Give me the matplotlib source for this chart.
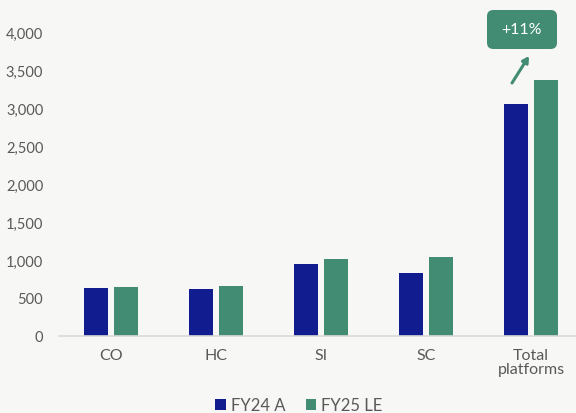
import matplotlib

matplotlib.use("Agg")
import matplotlib.pyplot as plt
from matplotlib.patches import FancyBboxPatch
from matplotlib.ticker import FuncFormatter

categories = ["CO", "HC", "SI", "SC", "Total\nplatforms"]
fy24_a = [635, 620, 950, 830, 3050]
fy25_le = [648, 660, 1015, 1040, 3370]
series_names = ["FY24 A", "FY25 LE"]
growth_label = "+11%"

BLUE = "#111d8e"
GREEN = "#428c73"
BG = "#f7f7f5"
TEXT = "#595959"

plt.rcParams["font.family"] = ["Lato", "DejaVu Sans"]

W, H = 576, 414
fig = plt.figure(figsize=(W / 100, H / 100), dpi=100, facecolor=BG)
# axes placed in pixel terms: x from 58.5 to 576, zero line at y=337, 4000 at y=33
ax = fig.add_axes([58.5 / W, (H - 337) / H, (W - 58.5) / W, 304 / H])
ax.set_facecolor(BG)

x = list(range(len(categories)))
bw = 0.229
off = 0.143
ax.bar([i - off for i in x], fy24_a, width=bw, color=BLUE, label=series_names[0])
ax.bar([i + off for i in x], fy25_le, width=bw, color=GREEN, label=series_names[1])

ax.set_xlim(-0.5, -0.5 + (W - 58.5) / 105)
ax.set_ylim(0, 4000)
ax.set_yticks(range(0, 4001, 500))
ax.yaxis.set_major_formatter(FuncFormatter(lambda v, p: f"{int(v):,}"))
ax.set_xticks(x)
ax.set_xticklabels(categories, linespacing=1.0)

for s in ["top", "right", "left"]:
    ax.spines[s].set_visible(False)
ax.spines["bottom"].set_color("#d9d9d9")
ax.spines["bottom"].set_linewidth(1.2)
ax.tick_params(axis="y", length=0, pad=11, labelsize=10.5, labelcolor=TEXT)
ax.tick_params(axis="x", length=0, pad=9, labelsize=11.5, labelcolor=TEXT)

# growth callout above total bars
to_data = ax.transData.inverted()
def px(xp, yp):
    return to_data.transform((xp, H - yp))

box_x0, box_y0 = px(487, 50)
box_x1, box_y1 = px(557, 11)
box = FancyBboxPatch((box_x0, box_y0), box_x1 - box_x0, box_y1 - box_y0,
                     boxstyle="round,pad=0,rounding_size=0.06",
                     mutation_aspect=(box_y1 - box_y0) / (box_x1 - box_x0) * 1.8,
                     fc=GREEN, ec="none", clip_on=False)
ax.add_patch(box)
ax.text((box_x0 + box_x1) / 2, (box_y0 + box_y1) / 2, growth_label, color="white",
        fontsize=11.5, ha="center", va="center", clip_on=False)
a0 = px(512, 84)
a1 = px(529, 57)
ax.annotate("", xy=a1, xytext=a0,
            arrowprops=dict(arrowstyle="-|>,head_length=0.35,head_width=0.2",
                            color=GREEN, lw=2.2, shrinkA=0, shrinkB=0),
            annotation_clip=False)

fig.legend(loc="center", bbox_to_anchor=(299 / W, (H - 406) / H), ncol=2,
           frameon=False, fontsize=12, labelcolor=TEXT, handlelength=0.65,
           handleheight=0.65, handletextpad=0.3, columnspacing=1.2)

fig.savefig("out.png", dpi=100, facecolor=BG)
